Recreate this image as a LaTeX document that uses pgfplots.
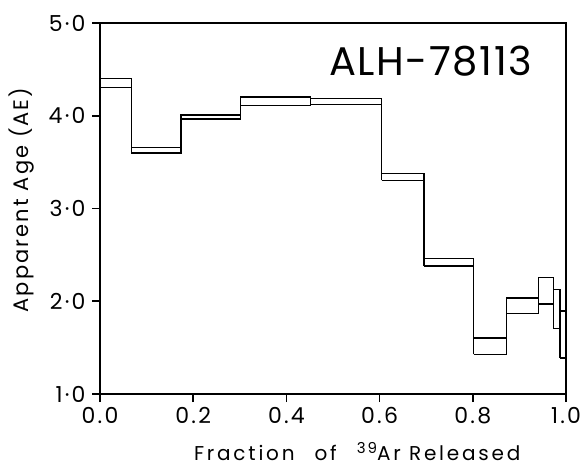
\documentclass[border=0pt]{standalone}
\usepackage{fontspec}
\setmainfont{Poppins}
\usepackage{pgfplots}
\usepackage{pgfplotstable}
\pgfplotsset{compat=1.18}

% step ages: fraction interval and the low/high age of each step
\pgfplotstableread{
x0     x1     lo    hi
0.000  0.0675 4.306 4.404
0.0675 0.174  3.598 3.659
0.174  0.301  3.963 4.006
0.301  0.452  4.111 4.201
0.452  0.6045 4.122 4.183
0.6045 0.695  3.302 3.378
0.695  0.802  2.380 2.463
0.802  0.872  1.426 1.603
0.872  0.9405 1.867 2.037
0.9405 0.9727 1.972 2.254
0.9727 0.987  1.705 2.127
0.987  1.000  1.390 1.893
}\steps
\pgfplotstablegetrowsof{\steps}
\pgfmathtruncatemacro\lastrow{\pgfplotsretval-1}

\begin{document}
\begin{tikzpicture}
  \path[use as bounding box] (-100pt,-72pt) rectangle (486pt,394pt);
  \begin{axis}[
    at={(0,0)}, anchor=south west,
    scale only axis,
    width=466pt, height=371pt,
    xmin=0, xmax=1, ymin=1, ymax=5,
    xtick={0,0.2,0.4,0.6,0.8,1},
    xticklabels={0.0,0.2,0.4,0.6,0.8,1.0},
    ytick={1,2,3,4,5},
    yticklabels={1·0,2·0,3·0,4·0,5·0},
    tick align=outside,
    xtick pos=bottom, ytick pos=left,
    major tick length=8pt,
    tick style={black, line width=1.6pt},
    axis line style={line width=2pt},
    ticklabel style={font=\fontsize{22}{24}\selectfont\addfontfeature{LetterSpace=10}},
    xticklabel style={yshift=-2pt},
    yticklabel style={xshift=-3pt},
    xlabel={Fraction\quad of\quad {\fontsize{15}{15}\selectfont\raisebox{7pt}{39}}Ar Released},
    ylabel={Apparent Age (AE)},
    xlabel style={at={(axis description cs:0.552,-0.178)}, anchor=base,
      font=\fontsize{20}{22}\selectfont\addfontfeature{LetterSpace=14}},
    ylabel style={at={(axis description cs:-0.169,0.523)}, anchor=center,
      font=\fontsize{21}{23}\selectfont\addfontfeature{LetterSpace=10}},
  ]
    \pgfplotsforeachungrouped \i in {0,...,\lastrow}{
      \pgfplotstablegetelem{\i}{x0}\of\steps \let\xa\pgfplotsretval
      \pgfplotstablegetelem{\i}{x1}\of\steps \let\xb\pgfplotsretval
      \pgfplotstablegetelem{\i}{lo}\of\steps \let\ya\pgfplotsretval
      \pgfplotstablegetelem{\i}{hi}\of\steps \let\yb\pgfplotsretval
      \edef\boxplot{\noexpand\addplot[black, line width=1.4pt, mark=none]
        coordinates {(\xa,\ya) (\xb,\ya) (\xb,\yb) (\xa,\yb) (\xa,\ya)};}
      \boxplot
      % vertical riser joining this step to the previous one
      \ifnum\i>0
        \pgfmathsetmacro\jlo{min(\ya,\prevlo)}
        \pgfmathsetmacro\jhi{max(\yb,\prevhi)}
        \edef\joinplot{\noexpand\addplot[black, line width=1.4pt, mark=none]
          coordinates {(\xa,\jlo) (\xa,\jhi)};}
        \joinplot
      \fi
      \let\prevlo\ya \let\prevhi\yb
    }
    \node[anchor=base east, font=\fontsize{40}{44}\selectfont\addfontfeature{LetterSpace=4}]
      at (rel axis cs:0.935,0.858) {ALH-78113};
  \end{axis}
\end{tikzpicture}
\end{document}
